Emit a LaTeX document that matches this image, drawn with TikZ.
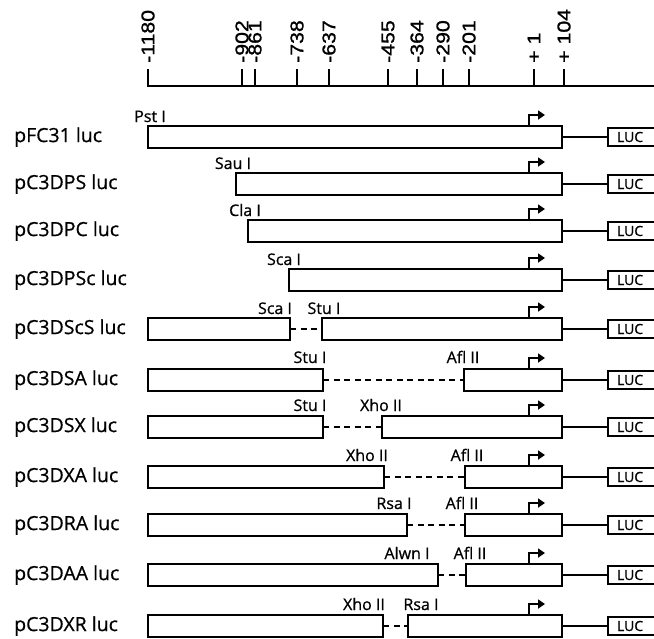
\documentclass[tikz,border=0pt]{standalone}
\usepackage{fontspec}
\setmainfont{Open Sans}
\newfontfamily\scalefnt[FakeBold=1.2, FakeStretch=1.15]{Liberation Sans}
\newfontfamily\sitefnt[FakeBold=0.8]{Open Sans}
\newfontfamily\rowfnt[FakeBold=0.6]{Open Sans}
\usetikzlibrary{arrows.meta}
\tikzset{
 seg/.style={draw, line width=1.8pt, rectangle, inner sep=0pt, outer sep=0pt, minimum height=22pt, anchor=west},
 lucbox/.style={draw, line width=1.8pt, rectangle, anchor=west, inner xsep=9pt, inner ysep=0pt, outer sep=0pt,
   minimum height=18pt, text width=50pt, align=left, font=\sitefnt\fontsize{14}{14}\selectfont},
 link/.style={line width=1.8pt},
 gap/.style={line width=1.8pt, dash pattern=on 6pt off 4.5pt},
 prom/.style={line width=1.8pt, -{Triangle[length=7pt,width=9pt]}},
 rowlab/.style={anchor=west, font=\rowfnt\fontsize{19.5}{20}\selectfont, inner sep=0pt},
 site/.style={anchor=base, font=\sitefnt\fontsize{16}{16}\selectfont, inner sep=0pt},
 scalelab/.style={rotate=90, anchor=west, font=\scalefnt\fontsize{18.5}{18.5}\selectfont, inner sep=0pt},
 tickln/.style={line width=1.8pt},
}
% name, left x, right x, centre y
\newcommand\mkseg[4]{\node[seg, minimum width={(#3-#2)*1pt}] (#1) at (#2,#4) {};}
% row name, centre y, label
\newcommand\mkrow[3]{%
  \node[rowlab] (#1lab) at (14,#2) {#3};
  \node[lucbox] (#1luc) at (608,#2) {LUC};
  \draw[link] (#1b.east) -- (#1luc.west);
  \draw[prom] ([xshift=-33pt]#1b.north east) -- ++(0,-11) -- ++(16,0);
}
\begin{document}
\begin{tikzpicture}[x=1pt,y=-1pt]
\useasboundingbox (0,0) rectangle (654,638);
% scale
\draw[tickln] (148,69) -- (148,86) -- (654,86);
\foreach \xx/\lbl [count=\i] in {148/-1180,242/-902,255/-861,297/-738,329/-637,388/-455,417/-364,443/-290,469/-201,534/+ 1,564/+ 104}{
  \draw[tickln] (\xx,69) -- (\xx,86);
  \node[scalelab] (sc\i) at (\xx,63) {\lbl};
}
% row 1
\mkseg{r1b}{148}{562}{137}
\mkrow{r1}{137}{pFC31 luc}
\node[site] (r1s1) at (150,122) {Pst I};
% row 2
\mkseg{r2b}{236}{562}{184}
\mkrow{r2}{184}{pC3DPS luc}
\node[site] (r2s1) at (233,169) {Sau I};
% row 3
\mkseg{r3b}{248}{562}{231}
\mkrow{r3}{231}{pC3DPC luc}
\node[site] (r3s1) at (245,216) {Cla I};
% row 4
\mkseg{r4b}{289}{562}{280}
\mkrow{r4}{280}{pC3DPSc luc}
\node[site] (r4s1) at (284,265) {Sca I};
% row 5
\mkseg{r5a}{148}{290}{329}
\mkseg{r5b}{322}{562}{329}
\mkrow{r5}{329}{pC3DScS luc}
\draw[gap] (r5a.east) -- (r5b.west);
\node[site] (r5s1) at (275,314) {Sca I};
\node[site] (r5s2) at (324,314) {Stu I};
% row 6
\mkseg{r6a}{148}{323}{380}
\mkseg{r6b}{464}{562}{380}
\mkrow{r6}{380}{pC3DSA luc}
\draw[gap] (r6a.east) -- (r6b.west);
\node[site] (r6s1) at (310,363) {Stu I};
\node[site] (r6s2) at (463,363) {Afl II};
% row 7
\mkseg{r7a}{148}{323}{427}
\mkseg{r7b}{382}{562}{427}
\mkrow{r7}{427}{pC3DSX luc}
\draw[gap] (r7a.east) -- (r7b.west);
\node[site] (r7s1) at (310,411) {Stu I};
\node[site] (r7s2) at (381,411) {Xho II};
% row 8
\mkseg{r8a}{148}{384}{477}
\mkseg{r8b}{465}{562}{477}
\mkrow{r8}{477}{pC3DXA luc}
\draw[gap] (r8a.east) -- (r8b.west);
\node[site] (r8s1) at (367,461) {Xho II};
\node[site] (r8s2) at (467,461) {Afl II};
% row 9
\mkseg{r9a}{148}{407}{525}
\mkseg{r9b}{465}{562}{525}
\mkrow{r9}{525}{pC3DRA luc}
\draw[gap] (r9a.east) -- (r9b.west);
\node[site] (r9s1) at (394,509) {Rsa I};
\node[site] (r9s2) at (462,509) {Afl II};
% row 10
\mkseg{r10a}{148}{438}{575}
\mkseg{r10b}{466}{562}{575}
\mkrow{r10}{575}{pC3DAA luc}
\draw[gap] (r10a.east) -- (r10b.west);
\node[site] (r10s1) at (407,559) {Alwn I};
\node[site] (r10s2) at (470,559) {Afl II};
% row 11
\mkseg{r11a}{148}{383}{626}
\mkseg{r11b}{408}{562}{626}
\mkrow{r11}{626}{pC3DXR luc}
\draw[gap] (r11a.east) -- (r11b.west);
\node[site] (r11s1) at (364,610) {Xho II};
\node[site] (r11s2) at (421,610) {Rsa I};
\end{tikzpicture}
\end{document}
